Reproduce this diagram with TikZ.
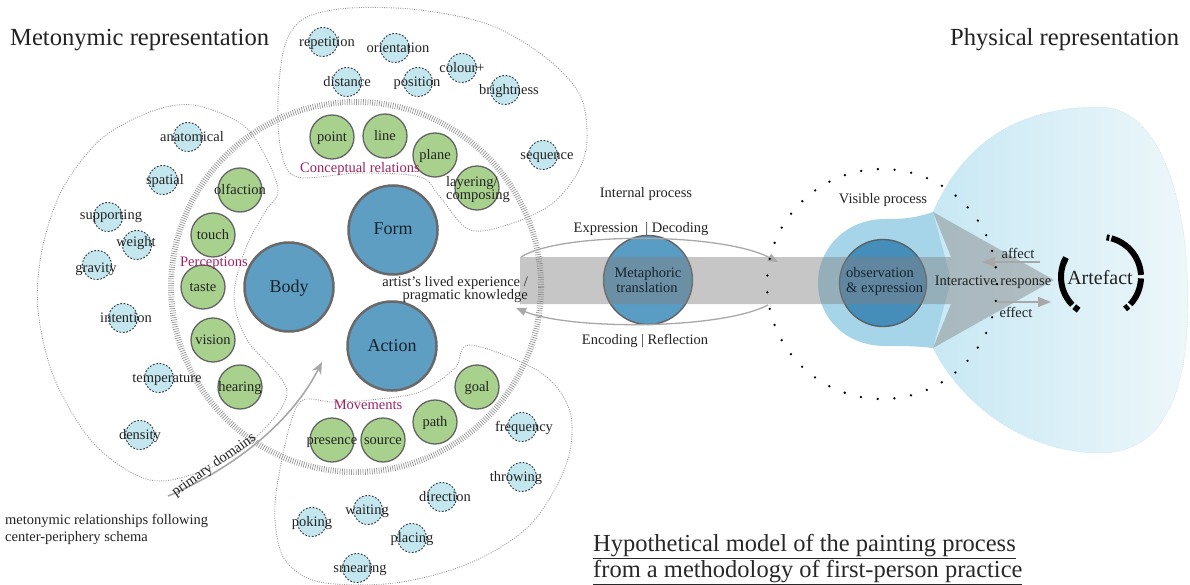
\documentclass[tikz,border=0pt]{standalone}
\usepackage{fontspec}
\setmainfont{Liberation Serif}
\usetikzlibrary{arrows.meta}
\definecolor{txtc}{RGB}{34,34,34}
\definecolor{gfill}{RGB}{169,209,142}
\definecolor{gbord}{RGB}{100,100,100}
\definecolor{bblue}{RGB}{94,158,195}
\definecolor{bbord}{RGB}{105,105,105}
\definecolor{bubf}{RGB}{196,230,238}
\definecolor{bubd}{RGB}{45,55,65}
\definecolor{magc}{RGB}{160,32,96}
\definecolor{regc}{RGB}{150,150,150}
\definecolor{hatchc}{RGB}{150,150,150}
\definecolor{bandc}{RGB}{128,128,128}
\definecolor{bulbc}{RGB}{166,213,234}
\definecolor{blobM}{RGB}{200,232,244}
\definecolor{blobR}{RGB}{237,247,250}
\definecolor{blobE}{RGB}{200,226,235}
\definecolor{arrg}{RGB}{168,168,168}
\definecolor{mblue}{RGB}{90,157,196}
\definecolor{oblue}{RGB}{70,142,186}
\definecolor{titc}{RGB}{40,40,40}
\definecolor{ctext}{RGB}{25,35,45}
\newcommand\mkbub[4]{\node[bub] (#1) at (#2) {}; \node[txt] (#1-t) at (#3) {#4};}
\newcommand\mkgreen[3]{\node[gcirc] (#1) at (#2) {}; \node[txt] (#1-t) at (#2) {#3};}
\begin{document}
\begin{tikzpicture}[x=1pt,y=-1pt,
  txt/.style={font=\fontsize{14.5}{15}\selectfont, text=txtc, inner sep=0pt, text height=10pt, text depth=1.8pt},
  bigtxt/.style={font=\fontsize{18}{20}\selectfont, text=ctext, inner sep=0pt, text height=12.5pt, text depth=2.5pt},
  ttl/.style={font=\fontsize{24.6}{26}\selectfont, text=txtc, inner sep=0pt, text height=16.5pt, text depth=4pt},
  mag/.style={txt, text=magc},
  gcirc/.style={circle, fill=gfill, draw=gbord, line width=1.3pt, minimum size=44pt, inner sep=0pt},
  bigc/.style={circle, fill=bblue, draw=bbord, line width=2.5pt, minimum size=89pt, inner sep=0pt},
  bub/.style={circle, fill=bubf, draw=bubd, line width=0.9pt, dash pattern=on 1.8pt off 1.6pt, minimum size=29pt, inner sep=0pt},
  region/.style={draw=regc, line width=0.9pt, dash pattern=on 0.9pt off 1.4pt},
  garrow/.style={draw=arrg, line width=1.3pt, -{Triangle[length=10pt,width=8pt]}},
  farrow/.style={draw=arrg, line width=1.5pt, -{Triangle[length=13pt,width=10pt]}},
]
\useasboundingbox (0,0) rectangle (1190,585);

% light blue blob (large part)
\shade[left color=blobM, right color=blobR]
 (933,212) .. controls (965,140) and (1020,107) .. (1100,107)
 .. controls (1160,107) and (1188,200) .. (1188,300)
 .. controls (1188,400) and (1160,453) .. (1100,453)
 .. controls (1030,453) and (965,410) .. (933,348) -- cycle;
\draw[draw=blobE, line width=0.6pt, dash pattern=on 0.8pt off 1.2pt]
 (933,212) .. controls (965,140) and (1020,107) .. (1100,107)
 .. controls (1160,107) and (1188,200) .. (1188,300)
 .. controls (1188,400) and (1160,453) .. (1100,453)
 .. controls (1030,453) and (965,410) .. (933,348);
% bulb around observation
\fill[bulbc]
 (933,348) .. controls (915,346) and (905,346) .. (885,346)
 .. controls (846,346) and (818,318) .. (818,283)
 .. controls (818,248) and (846,219) .. (885,219)
 .. controls (905,219) and (915,218) .. (933,212) -- (951,280) -- cycle;

% region outlines
\draw[region] plot[smooth cycle, tension=0.55] coordinates {(278,190) (262,150) (240,123) (193,105) (150,112) (100,140) (62,190) (42,250) (38,310) (55,380) (95,445) (150,480) (205,470) (250,443) (287,392) (247,340) (234,297) (245,250) (265,212)};
\draw[region] plot[smooth cycle, tension=0.55] coordinates {(297,177) (281,150) (278,100) (285,45) (305,18) (350,8) (420,10) (490,25) (545,57) (580,95) (587,140) (578,172) (553,203) (513,223) (470,230) (440,197) (420,177) (360,173)};
\draw[region] plot[smooth cycle, tension=0.55] coordinates {(303,400) (290,425) (278,480) (275,520) (285,560) (320,582) (395,583) (470,563) (530,525) (566,465) (570,412) (540,372) (470,345) (455,368) (420,392) (370,400) (333,402)};

% hatched ring
\draw[draw=hatchc, line width=6pt, dash pattern=on 0.7pt off 1.6pt] (356,287) circle[radius=185pt];

% primary domains arrow
\coordinate (pd1) at (168,496);
\coordinate (pd2) at (322,362);
\draw[draw=arrg, line width=1.6pt, -{Stealth[length=12pt,width=10pt]}] (pd1) .. controls (230,470) and (290,425) .. (pd2);
\node[txt, rotate=35, anchor=base, text height=, text depth=] (pdt) at (216,468) {primary domains};

% metaphoric and observation circles
\node[bigc, fill=mblue, draw=gbord, line width=1.5pt] (meta) at (648,280) {};
\node[bigc, fill=oblue, draw=bubd!80, line width=1.4pt, minimum size=87pt] (obs) at (883,283) {};

% band with arrowhead
\fill[bandc, opacity=0.45] (520,257) -- (951,257) -- (933,212) -- (1054,280) -- (933,348) -- (951,304) -- (520,304) -- cycle;

% gray arcs
\coordinate (e1) at (521,257);
\coordinate (e2) at (778,262);
\draw[garrow] (e1) .. controls (560,232) and (720,232) .. (e2);
\coordinate (r1) at (768,305);
\coordinate (r2) at (516,308);
\draw[garrow] (r1) .. controls (720,330) and (570,330) .. (r2);

% dotted circle
\draw[black, line width=2.6pt, line cap=round, dash pattern=on 0pt off 16.8pt] (882,284) circle[radius=115pt];

% affect / effect arrows
\coordinate (af1) at (1040,262);
\coordinate (af2) at (982,262);
\draw[farrow] (af1) -- (af2);
\coordinate (ef1) at (997,302);
\coordinate (ef2) at (1051,302);
\draw[farrow] (ef1) -- (ef2);

% artefact brackets
\coordinate (art) at (1101,277);
\foreach \a/\b in {82/78, 75/3, -2/-43, -47/-53, 160/155, 151/224, 228/236}{
  \draw[black, line width=6pt] (art) ++(\a:40pt) arc[start angle=\a, end angle=\b, radius=40pt];
}

% big circles
\node[bigc] (form) at (393,230) {};
\node[bigc] (body) at (289,287) {};
\node[bigc] (action) at (392,346) {};
\node[bigtxt] (form-t) at (393,230) {Form};
\node[bigtxt] (body-t) at (289,287) {Body};
\node[bigtxt] (action-t) at (392,346) {Action};

% green circles
\mkgreen{gpoint}{332,137}{point}
\mkgreen{gline}{385,136}{line}
\mkgreen{gplane}{435,155}{plane}
\node[gcirc] (glay) at (477,188) {};
\node[txt, anchor=west] (glay-t1) at (446,182) {layering/};
\node[txt, anchor=west] (glay-t2) at (446,195) {composing};
\mkgreen{golf}{240,190}{olfaction}
\mkgreen{gtouch}{213,235}{touch}
\mkgreen{gtaste}{203,287}{taste}
\mkgreen{gvision}{213,340}{vision}
\mkgreen{ghear}{240,387}{hearing}
\mkgreen{gpres}{332,440}{presence}
\mkgreen{gsource}{383,440}{source}
\mkgreen{gpath}{435,422}{path}
\mkgreen{ggoal}{477,387}{goal}

% blue dashed bubbles
\mkbub{brep}{323,42}{327,42}{repetition}
\mkbub{bori}{395,48}{398,48}{orientation}
\mkbub{bdist}{347,82}{347,82}{distance}
\mkbub{bpos}{418,82}{417,82}{position}
\mkbub{bcol}{462,68}{462,68}{colour+}
\mkbub{bbri}{505,90}{509,90}{brightness}
\mkbub{bseq}{543,155}{547,155}{sequence}
\mkbub{bana}{188,137}{192,137}{anatomical}
\mkbub{bspa}{163,180}{165,180}{spatial}
\mkbub{bsup}{108,217}{111,215}{supporting}
\mkbub{bwei}{137,245}{136,242}{weight}
\mkbub{bgra}{97,265}{96,268}{gravity}
\mkbub{bint}{123,318}{126,318}{intention}
\mkbub{btem}{159,378}{167,378}{temperature}
\mkbub{bden}{140,435}{140,435}{density}
\mkbub{bfre}{522,427}{524,427}{frequency}
\mkbub{bthr}{522,477}{516,477}{throwing}
\mkbub{bdir}{442,497}{445,497}{direction}
\mkbub{bwai}{368,510}{367,510}{waiting}
\mkbub{bpok}{312,522}{312,522}{poking}
\mkbub{bpla}{412,538}{412,538}{placing}
\mkbub{bsme}{357,568}{360,568}{smearing}

% magenta labels
\node[mag] (lconc) at (360,168) {Conceptual relations};
\node[mag] (lperc) at (214,262) {Perceptions};
\node[mag] (lmov) at (368,405) {Movements};

% middle texts
\node[txt, anchor=east] (art1) at (528,282) {artist’s lived experience /};
\node[txt, anchor=east] (art2) at (528,295) {pragmatic knowledge};
\node[txt] (intp) at (646,193) {Internal process};
\node[txt] (expd) at (641,228) {Expression\ \ | Decoding};
\node[txt] (encr) at (645,340) {Encoding | Reflection};
\node[txt, text=ctext] (meta-t1) at (648,273) {Metaphoric};
\node[txt, text=ctext] (meta-t2) at (647,288) {translation};
\node[txt, text=ctext, anchor=west] (obs-t1) at (846,273) {observation};
\node[txt, text=ctext, anchor=west] (obs-t2) at (846,288) {\& expression};
\node[txt] (visp) at (883,199) {Visible process};
\node[txt] (aff) at (1018,254) {affect};
\node[txt] (intr) at (993,281) {Interactive response};
\node[txt] (eff) at (1016,313) {effect};
\node[font=\fontsize{20}{22}\selectfont, text=txtc, inner sep=0pt] (artf) at (1100,278) {Artefact};

% titles
\node[ttl, anchor=west] (tmet) at (10,39) {Metonymic representation};
\node[ttl, anchor=west] (tphy) at (950,39) {Physical representation};
\node[txt, anchor=west] (ml1) at (5,520) {metonymic relationships following};
\node[txt, anchor=west] (ml2) at (5,537) {center-periphery schema};
\node[ttl, anchor=west, text=titc, font=\fontsize{24.5}{26}\selectfont] (h1) at (593,545) {\underline{Hypothetical model of the painting process}};
\node[ttl, anchor=west, text=titc, font=\fontsize{24.5}{26}\selectfont] (h2) at (593,571) {\underline{from a methodology of first-person practice}};
\end{tikzpicture}
\end{document}
